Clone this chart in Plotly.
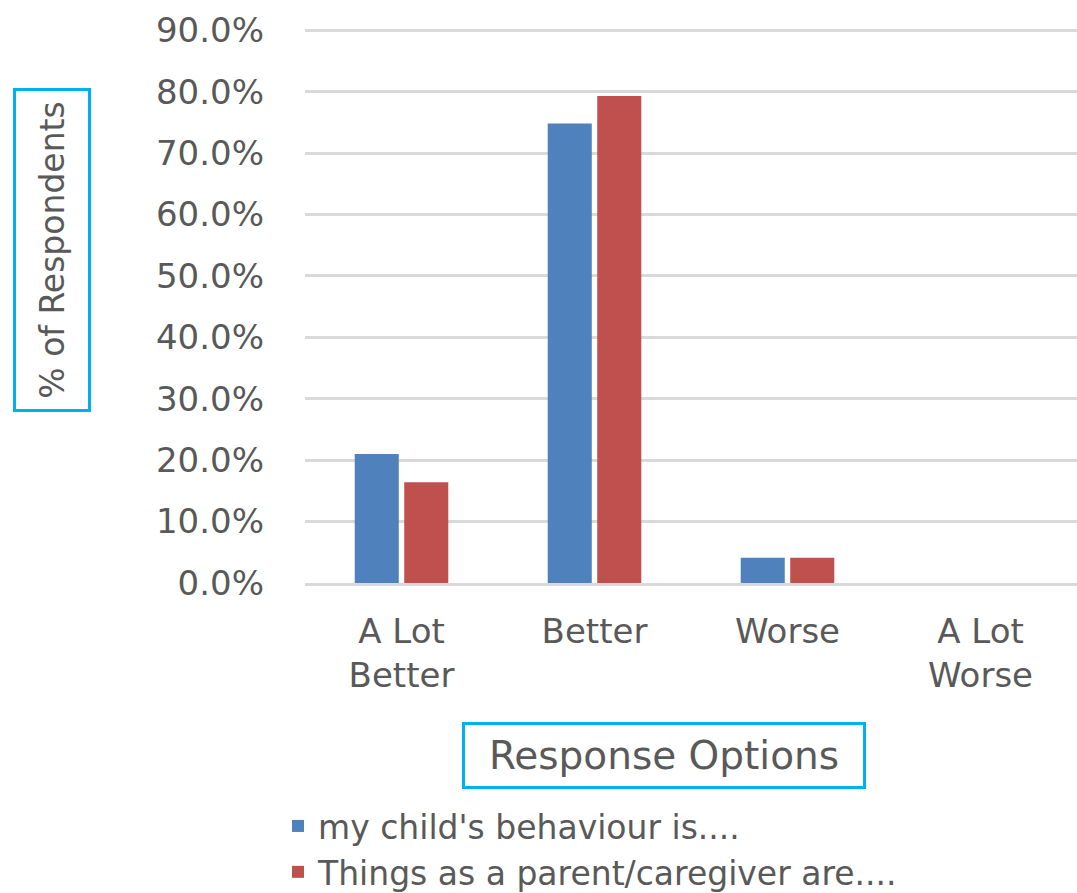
import plotly.graph_objects as go

categories = ["A Lot<br>Better", "Better", "Worse", "A Lot<br>Worse"]
series_names = ["my child's behaviour is....", "Things as a parent/caregiver are...."]
child_values = [0.210, 0.748, 0.041, 0.0]
parent_values = [0.164, 0.793, 0.041, 0.0]
colors = ["#4F81BD", "#C0504D"]
y_ticks = [0, 0.1, 0.2, 0.3, 0.4, 0.5, 0.6, 0.7, 0.8, 0.9]

FONT = "DejaVu Sans"
GREY = "#595959"

fig = go.Figure()
for name, vals, col in zip(series_names, [child_values, parent_values], colors):
    fig.add_trace(go.Bar(x=categories, y=vals, name=name, marker=dict(color=col, line=dict(width=0))))

fig.update_layout(
    width=1077, height=893,
    margin=dict(l=305, r=0, t=29, b=310, autoexpand=False),
    paper_bgcolor="white", plot_bgcolor="white",
    barmode="group", bargap=0.487, bargroupgap=0.11,
    showlegend=True,
    legend=dict(xref="container", yref="container", x=278 / 1077, y=(893 - 798) / 893,
                xanchor="left", yanchor="top",
                font=dict(family=FONT, size=33, color=GREY),
                itemwidth=30, tracegroupgap=0, bgcolor="rgba(0,0,0,0)"),
    font=dict(family=FONT, color=GREY),
)
fig.update_yaxes(range=[0, 0.902], tickvals=y_ticks, tickformat=".1%",
                 showgrid=True, gridcolor="#D9D9D9", gridwidth=3,
                 zeroline=False, showline=False, ticks="",
                 tickfont=dict(family=FONT, size=34, color=GREY),
                 ticklabelstandoff=40)
fig.update_xaxes(showgrid=False, zeroline=False, showline=True, linecolor="#D9D9D9", linewidth=3,
                 ticks="", tickfont=dict(family=FONT, size=34, color=GREY),
                 ticklabelstandoff=16)

fig.add_annotation(text="% of Respondents", xref="paper", yref="paper",
                   x=(52 - 305) / 772, y=(583 - 250) / 554, xanchor="center", yanchor="middle",
                   textangle=-90, showarrow=False, width=318, height=72,
                   bordercolor="#00B0F0", borderwidth=3, borderpad=0,
                   font=dict(family=FONT, size=33, color=GREY))
fig.add_annotation(text="Response Options", xref="paper", yref="paper",
                   x=(664 - 305) / 772, y=(583 - 755) / 554, xanchor="center", yanchor="middle",
                   showarrow=False, width=398, height=61,
                   bordercolor="#00B0F0", borderwidth=3, borderpad=0,
                   font=dict(family=FONT, size=39, color=GREY))

fig.write_html("out.html")
